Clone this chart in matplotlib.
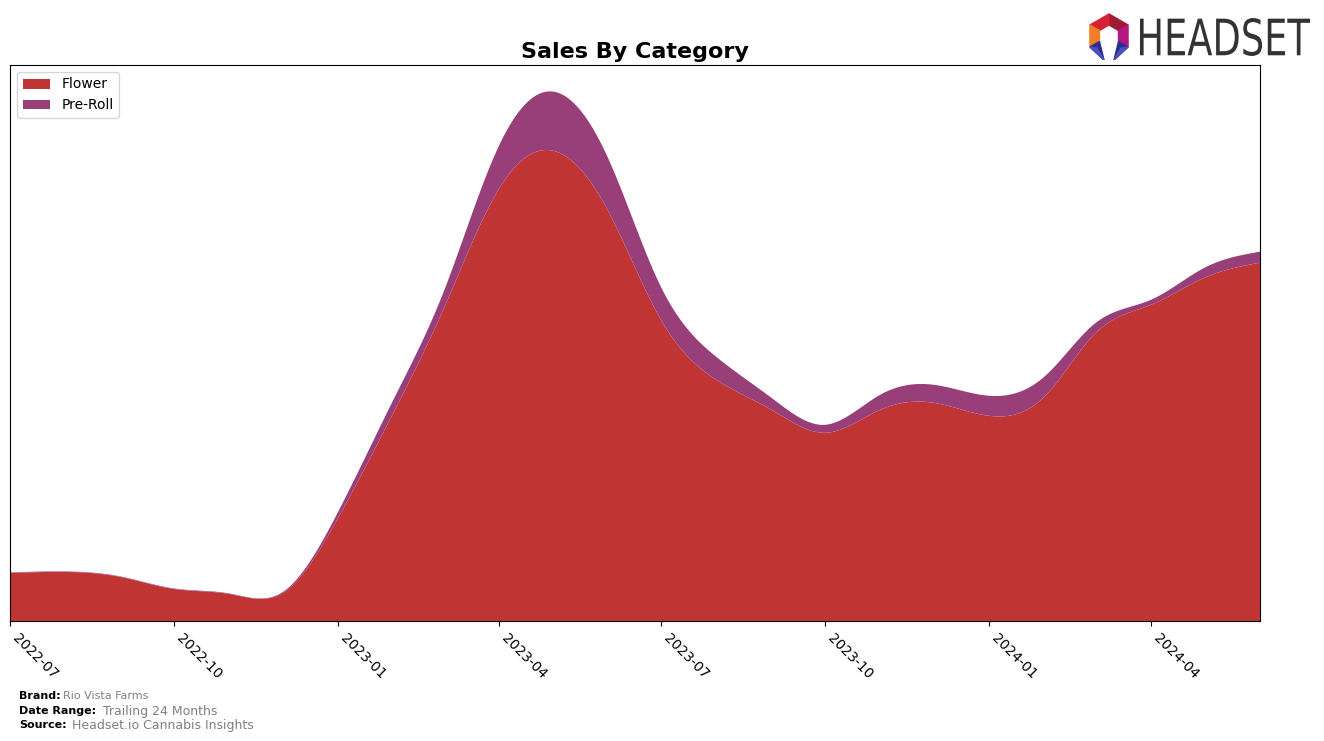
import numpy as np
import pandas as pd
import matplotlib
matplotlib.use("Agg")
import matplotlib.pyplot as plt
import matplotlib.dates as mdates
from matplotlib.patches import Polygon, PathPatch
from matplotlib.textpath import TextPath
from matplotlib.transforms import Affine2D

# monthly sales (arbitrary units)
months = pd.date_range("2022-07-01", "2024-06-01", freq="MS")
flower = [48, 49, 44, 32, 27, 28, 103, 208, 311, 431, 470, 411,
          301, 241, 211, 188, 211, 218, 205, 224, 288, 316, 343, 358]
pre_roll = [0.5, 0.5, 0.5, 0.5, 0.5, 1, 6, 13, 17, 43, 59, 53,
            33, 23, 12, 8, 15, 18, 20, 20, 10, 5, 10, 11]
categories = ["Flower", "Pre-Roll"]
colors = ["#C13434", "#983F7A"]
tick_dates = pd.date_range("2022-07-01", "2024-04-01", freq="3MS")


def natural_spline(x, y, xs):
    x = np.asarray(x, float)
    y = np.asarray(y, float)
    n = len(x)
    h = np.diff(x)
    A = np.zeros((n, n))
    r = np.zeros(n)
    A[0, 0] = 1
    A[-1, -1] = 1
    for i in range(1, n - 1):
        A[i, i - 1] = h[i - 1]
        A[i, i] = 2 * (h[i - 1] + h[i])
        A[i, i + 1] = h[i]
        r[i] = 3 * ((y[i + 1] - y[i]) / h[i] - (y[i] - y[i - 1]) / h[i - 1])
    c = np.linalg.solve(A, r)
    b = (y[1:] - y[:-1]) / h - h * (2 * c[:-1] + c[1:]) / 3
    d = (c[1:] - c[:-1]) / (3 * h)
    idx = np.clip(np.searchsorted(x, xs, side="right") - 1, 0, n - 2)
    dx = xs - x[idx]
    return y[idx] + b[idx] * dx + c[idx] * dx ** 2 + d[idx] * dx ** 3


xm = mdates.date2num(months)
xs = np.linspace(xm[0], xm[-1], 1500)
flower_s = np.clip(natural_spline(xm, flower, xs), 0, None)
pre_s = np.clip(natural_spline(xm, pre_roll, xs), 0, None)

W, H = 1324, 741
fig = plt.figure(figsize=(W / 100, H / 100), dpi=100)
ax = fig.add_axes([10 / W, 1 - 621 / H, 1250 / W, 556 / H])

ax.stackplot(xs, flower_s, pre_s, colors=colors, labels=categories)
ax.set_xlim(xm[0], xm[-1])
ax.set_ylim(0, max(np.array(flower) + np.array(pre_roll)) * 1.05)
ax.set_yticks([])
ax.set_xticks(mdates.date2num(tick_dates))
ax.set_xticklabels([d.strftime("%Y-%m") for d in tick_dates],
                   rotation=-45, ha="left", fontsize=10)
ax.set_title("Sales By Category", fontsize=16, fontweight="bold", pad=5)
ax.legend(loc="upper left", fontsize=10)

# footer
fig.text(19 / W, 1 - 696 / H, "Brand:", fontsize=8, fontweight="bold", va="center")
fig.text(63 / W, 1 - 696 / H, "Rio Vista Farms", fontsize=8, color="gray", va="center")
fig.text(19 / W, 1 - 711 / H, "Date Range:", fontsize=8, fontweight="bold", va="center")
fig.text(103 / W, 1 - 711 / H, "Trailing 24 Months", fontsize=9, color="gray", va="center")
fig.text(19 / W, 1 - 725 / H, "Source:", fontsize=8, fontweight="bold", va="center")
fig.text(72 / W, 1 - 725 / H, "Headset.io Cannabis Insights", fontsize=9, color="gray", va="center")

# logo icon
lax = fig.add_axes([1084 / W, 1 - 60 / H, 50 / W, 48 / H])
lax.set_xlim(-25, 25)
lax.set_ylim(-24, 24)
lax.axis("off")
ang = np.deg2rad([90, 30, -30, 210, 150])
ro, ri = 22, 11
P = {a: (ro * np.cos(t), ro * np.sin(t)) for a, t in zip([90, 30, -30, 210, 150], ang)}
Q = {a: (ri * np.cos(t), ri * np.sin(t)) for a, t in zip([90, 30, -30, 210, 150], ang)}
segs = [((90, 30), "#9E1B32"), ((150, 90), "#D42136"), ((30, -30), "#B5177F"),
        ((210, 150), "#F07E26")]
for (a1, a2), col in segs:
    lax.add_patch(Polygon([P[a1], P[a2], Q[a2], Q[a1]], color=col))
lax.add_patch(Polygon([P[-30], Q[-30], (5, -24)], color="#2A2F8E"))
lax.add_patch(Polygon([P[-30], (12, -12), (5, -24)], color="#4B4FC4"))
lax.add_patch(Polygon([P[210], Q[210], (-5, -24)], color="#2A2F8E"))
lax.add_patch(Polygon([P[210], (-12, -12), (-5, -24)], color="#4B4FC4"))

# logo word, squeezed to look condensed
tax = fig.add_axes([1140 / W, 1 - 56 / H, 170 / W, 38 / H])
tax.axis("off")
tp = TextPath((0, 0), "HEADSET", size=10, prop={"family": "DejaVu Sans"})
bb = tp.get_extents()
tp = tp.transformed(Affine2D().translate(-bb.x0, -bb.y0)
                    .scale(1.0 / bb.width, 1.0 / bb.height))
tax.add_patch(PathPatch(tp, facecolor="#333333", edgecolor="none"))
tax.set_xlim(0, 1)
tax.set_ylim(0, 1)

fig.savefig("out.png", dpi=100)
